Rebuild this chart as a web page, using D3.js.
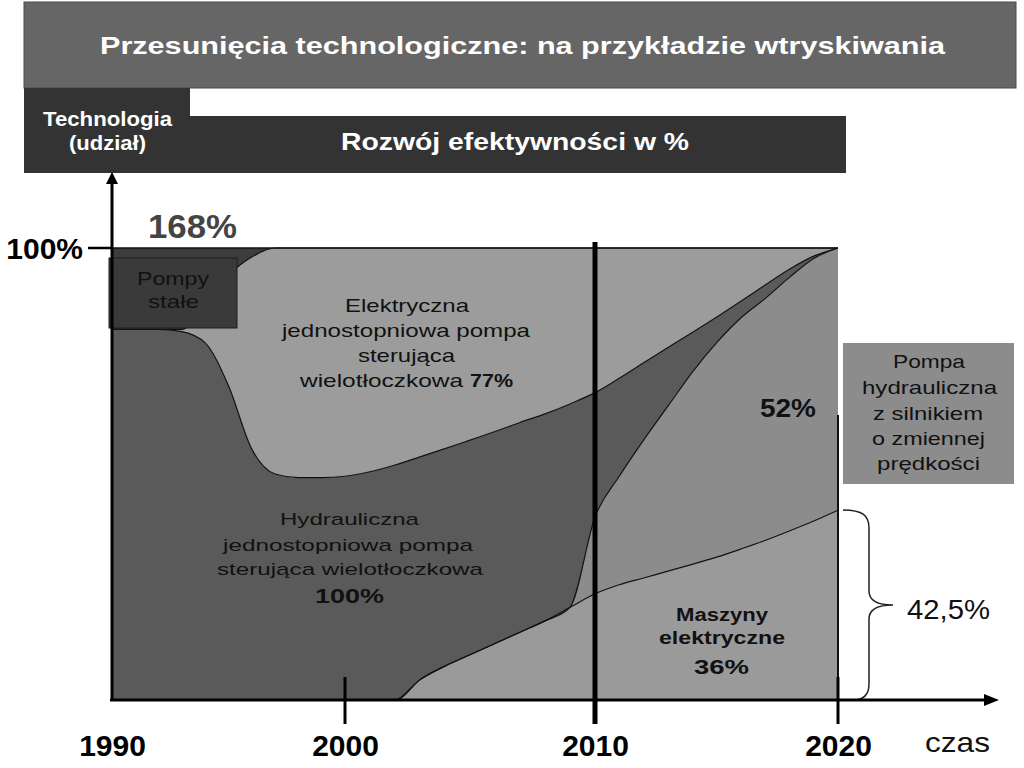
<!DOCTYPE html>
<html lang="pl">

<head>
    <meta charset="UTF-8">
    <title>Przesunięcia technologiczne</title>
    <style>
        body {
            margin: 0;
            background: #fff;
        }

        text {
            font-family: "Liberation Sans", Arial, sans-serif;
        }
    </style>
</head>

<body>
    <div id="wrapper"></div>

    <script src="https://d3js.org/d3.v7.min.js"></script>
    <script>
        // dane: udział technologii w %
        const years = [1990, 1991, 1992, 1993, 1994, 1995, 1996, 1997, 1998, 1999,
            2000, 2001, 2002, 2003, 2004, 2005, 2006, 2007, 2008, 2009,
            2010, 2011, 2012, 2013, 2014, 2015, 2016, 2017, 2018, 2019, 2020];

        const maszyny = [0, 0, 0, 0, 0, 0, 0, 0, 0, 0,
            0, 0, 0, 4.5, 7.5, 10, 12.5, 15, 17.5, 20.5,
            23.5, 25.5, 27, 28.5, 30, 31.6, 33.4, 35.3, 37.4, 39.6, 42];

        const zmienna = [0, 0, 0, 0, 0, 0, 0, 0, 0, 0,
            0, 0, 0, 0, 0, 0, 0, 0, 0, 0,
            17, 24, 30.5, 36.5, 42.5, 47.4, 51.1, 53.5, 56.1, 58.1, 58];

        const hydrauliczna = [82, 82, 82, 81.5, 79, 69.5, 55.5, 50, 49.2, 49.2,
            49.5, 50.5, 52, 49.3, 48.1, 47.5, 46.9, 46.4, 45.8, 45,
            27.5, 21.7, 17.1, 13, 8.8, 5.7, 3.7, 3, 1.8, 0.5, 0];

        const elektryczna = [0, 0, 0, 0.5, 9, 24.5, 42.5, 50, 50.8, 50.8,
            50.5, 49.5, 48, 46.2, 44.4, 42.5, 40.6, 38.6, 36.7, 34.5,
            32, 28.8, 25.4, 22, 18.7, 15.3, 11.8, 8.2, 4.7, 1.8, 0];

        const pompyStale = [18, 18, 18, 18, 12, 6, 2, 0, 0, 0,
            0, 0, 0, 0, 0, 0, 0, 0, 0, 0,
            0, 0, 0, 0, 0, 0, 0, 0, 0, 0, 0];

        const yearTicks = [1990, 2000, 2010, 2020];
        const markYears = [2000, 2010, 2020];
        const maszyny2020 = 42.5;

        const keys = ['maszyny', 'zmienna', 'hydrauliczna', 'elektryczna', 'pompyStale'];
        const colors = {
            maszyny: '#9a9a9a',
            zmienna: '#8c8c8c',
            hydrauliczna: '#5a5a5a',
            elektryczna: '#9c9c9c',
            pompyStale: '#3c3c3c'
        };

        const table = years.map((yr, i) => ({
            year: yr,
            maszyny: maszyny[i],
            zmienna: zmienna[i],
            hydrauliczna: hydrauliczna[i],
            elektryczna: elektryczna[i],
            pompyStale: pompyStale[i]
        }));

        // svg
        const svg = d3.select('#wrapper').append('svg')
            .attr('width', 1024)
            .attr('height', 768);

        const x = d3.scaleLinear()
            .domain([1990, 2000, 2010, 2020])
            .range([112, 345, 595, 838]);

        const y = d3.scaleLinear()
            .domain([0, 100])
            .range([700, 248]);

        // helper dla tekstu (rozciągnięty jak w oryginale)
        function label(txt, tx, ty, size, weight, fill, width, anchor) {
            const t = svg.append('text')
                .attr('x', tx)
                .attr('y', ty)
                .attr('font-size', size)
                .attr('font-weight', weight)
                .attr('fill', fill)
                .attr('text-anchor', anchor || 'start')
                .text(txt);
            if (width) {
                t.attr('textLength', width).attr('lengthAdjust', 'spacingAndGlyphs');
            }
            return t;
        }

        // nagłówki
        svg.append('rect').attr('x', 24).attr('y', 2).attr('width', 992).attr('height', 86)
            .attr('fill', '#666').attr('stroke', '#4a4a4a');
        svg.append('rect').attr('x', 24).attr('y', 88).attr('width', 166).attr('height', 85)
            .attr('fill', '#333');
        svg.append('rect').attr('x', 190).attr('y', 116).attr('width', 656).attr('height', 57)
            .attr('fill', '#333');

        label('Przesunięcia technologiczne: na przykładzie wtryskiwania', 100, 54, 24, 'bold', '#fff', 845);
        label('Technologia', 43, 126, 20, 'bold', '#fff', 129);
        label('(udział)', 69, 150, 20, 'bold', '#fff', 77);
        label('Rozwój efektywności w %', 341, 150, 24, 'bold', '#fff', 348);

        // warstwy
        const stack = d3.stack().keys(keys);
        const series = stack(table);

        const area = d3.area()
            .x(d => x(d.data.year))
            .y0(d => y(d[0]))
            .y1(d => y(d[1]))
            .curve(d3.curveMonotoneX);

        const topLine = d3.line()
            .x(d => x(d.data.year))
            .y(d => y(d[1]))
            .curve(d3.curveMonotoneX);

        svg.append('g')
            .selectAll('path')
            .data(series)
            .join('path')
            .attr('d', area)
            .attr('fill', d => colors[d.key]);

        svg.append('g')
            .selectAll('path')
            .data(series.slice(0, 4))
            .join('path')
            .attr('d', topLine)
            .attr('fill', 'none')
            .attr('stroke', '#111')
            .attr('stroke-width', 1.2);

        // górna krawędź 100%
        svg.append('line')
            .attr('x1', x(1990)).attr('x2', x(2020))
            .attr('y1', y(100)).attr('y2', y(100))
            .attr('stroke', '#111').attr('stroke-width', 1.5);

        // prawa krawędź przy 2020
        svg.append('line')
            .attr('x1', x(2020)).attr('x2', x(2020))
            .attr('y1', 415).attr('y2', y(0))
            .attr('stroke', '#111').attr('stroke-width', 2);

        // Pompy stałe
        svg.append('rect').attr('x', 109).attr('y', 258).attr('width', 128).attr('height', 70)
            .attr('fill', '#3a3a3a').attr('stroke', '#1e1e1e');
        label('Pompy', 137, 285, 19, 'normal', '#111', 72);
        label('stałe', 148, 308, 19, 'normal', '#111', 51);

        label('168%', 148, 238, 34, 'bold', '#444', 89);

        // Elektryczna
        label('Elektryczna', 345, 312, 18.5, 'normal', '#111', 124);
        label('jednostopniowa pompa', 282, 337, 18.5, 'normal', '#111', 248);
        label('sterująca', 358, 362, 18.5, 'normal', '#111', 97);
        label('wielotłoczkowa', 300, 387, 18.5, 'normal', '#111', 163);
        label('77%', 470, 387, 18.5, 'bold', '#111', 43);

        // Hydrauliczna
        label('Hydrauliczna', 280, 525, 17, 'normal', '#111', 139);
        label('jednostopniowa pompa', 223, 551, 17, 'normal', '#111', 250);
        label('sterująca wielotłoczkowa', 217, 575, 17, 'normal', '#111', 266);
        label('100%', 315, 603, 21, 'bold', '#111', 69);

        label('52%', 760, 417, 25, 'bold', '#111', 56);

        // Maszyny elektryczne
        label('Maszyny', 676, 621, 18, 'bold', '#111', 92);
        label('elektryczne', 659, 644, 18, 'bold', '#111', 126);
        label('36%', 694, 674, 21, 'bold', '#111', 55);

        // Pompa hydrauliczna z silnikiem
        svg.append('rect').attr('x', 843).attr('y', 343).attr('width', 171).attr('height', 141)
            .attr('fill', '#8c8c8c');
        label('Pompa', 893, 368, 19, 'normal', '#111', 72);
        label('hydrauliczna', 862, 394, 19, 'normal', '#111', 135);
        label('z silnikiem', 873, 420, 19, 'normal', '#111', 110);
        label('o zmiennej', 872, 445, 19, 'normal', '#111', 113);
        label('prędkości', 877, 470, 19, 'normal', '#111', 103);

        // klamra 42,5%
        const bTop = y(maszyny2020) + 2,
            bBot = y(0),
            bMid = (bTop + bBot) / 2,
            bx = x(2020) + 5;
        svg.append('path')
            .attr('d', `M${bx},${bTop} C${bx + 20},${bTop} ${bx + 26},${bTop + 6} ${bx + 26},${bTop + 18}
                L${bx + 26},${bMid - 14} C${bx + 26},${bMid - 4} ${bx + 34},${bMid} ${bx + 50},${bMid}
                C${bx + 34},${bMid} ${bx + 26},${bMid + 4} ${bx + 26},${bMid + 14}
                L${bx + 26},${bBot - 16} C${bx + 26},${bBot - 4} ${bx + 20},${bBot} ${bx + 10},${bBot}`)
            .attr('fill', 'none')
            .attr('stroke', '#222')
            .attr('stroke-width', 1.5);
        label('42,5%', 907, 619, 27, 'normal', '#111', 83);

        // osie
        svg.append('line')
            .attr('x1', 110).attr('x2', 986)
            .attr('y1', y(0)).attr('y2', y(0))
            .attr('stroke', '#000').attr('stroke-width', 3);
        svg.append('path')
            .attr('d', `M984,${y(0) - 6} L999,${y(0)} L984,${y(0) + 6} Z`)
            .attr('fill', '#000');

        svg.append('line')
            .attr('x1', x(1990)).attr('x2', x(1990))
            .attr('y1', y(0) + 1).attr('y2', 182)
            .attr('stroke', '#000').attr('stroke-width', 3);
        svg.append('path')
            .attr('d', `M${x(1990) - 6},184 L${x(1990)},172 L${x(1990) + 6},184 Z`)
            .attr('fill', '#000');

        svg.append('line')
            .attr('x1', 88).attr('x2', x(1990))
            .attr('y1', y(100)).attr('y2', y(100))
            .attr('stroke', '#000').attr('stroke-width', 2.5);
        label('100%', 83, 259, 30, 'bold', '#000', null, 'end');

        // znaczniki lat
        svg.append('g')
            .selectAll('line')
            .data(markYears)
            .join('line')
            .attr('x1', d => x(d)).attr('x2', d => x(d))
            .attr('y1', d => d === 2010 ? 242 : 677)
            .attr('y2', 724)
            .attr('stroke', '#000')
            .attr('stroke-width', d => d === 2010 ? 5 : 3);

        const xAxis = d3.axisBottom(x)
            .tickValues(yearTicks)
            .tickFormat(d3.format('d'))
            .tickSize(0);

        const gx = svg.append('g')
            .attr('transform', 'translate(0,756)')
            .call(xAxis);
        gx.select('.domain').remove();
        gx.selectAll('text')
            .attr('y', 0)
            .attr('dy', 0)
            .attr('font-size', 30)
            .attr('font-weight', 'bold')
            .attr('font-family', '"Liberation Sans", Arial, sans-serif')
            .attr('fill', '#000');

        label('czas', 925, 752, 28, 'normal', '#111', 65);
    </script>
</body>

</html>
